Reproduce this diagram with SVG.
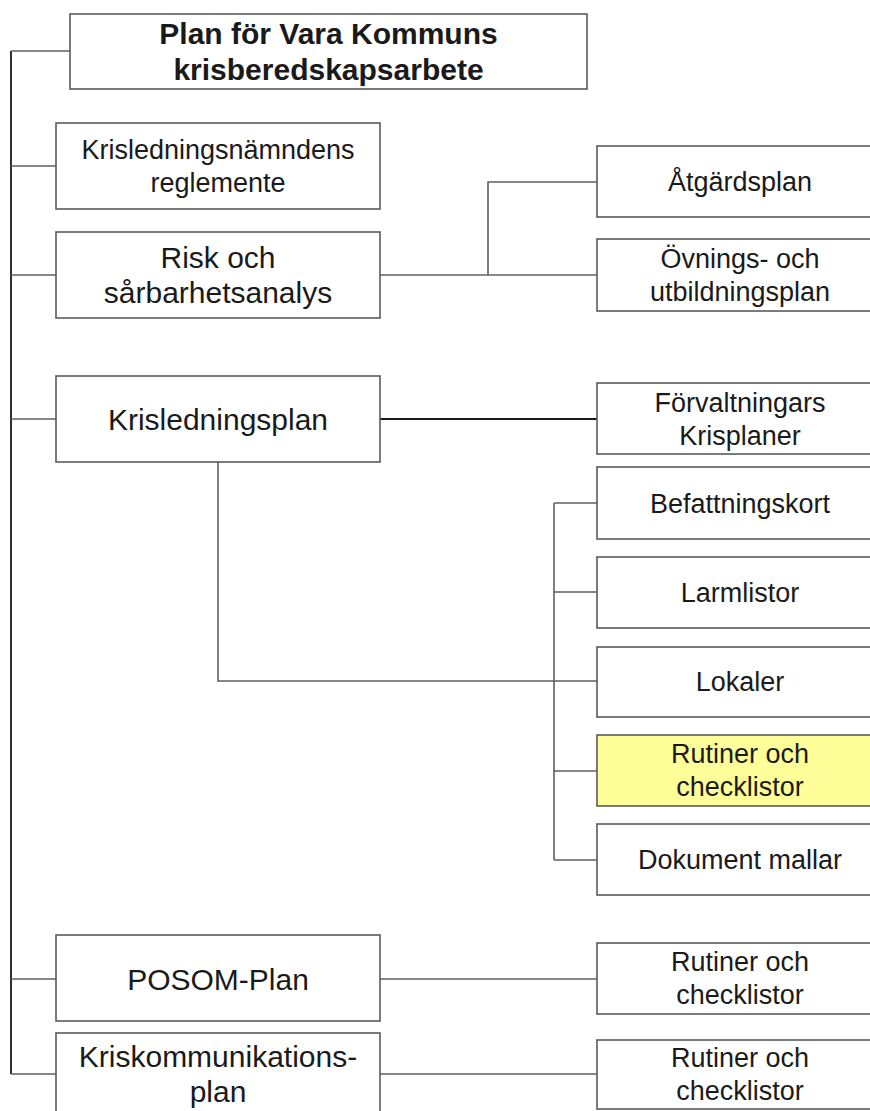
<svg xmlns="http://www.w3.org/2000/svg" width="870" height="1111" viewBox="0 0 870 1111">
<style>
.box{fill:#ffffff;stroke:#5a5a5a;stroke-width:1.6}
.hl{fill:#ffff99}
.t{font-family:"Liberation Sans",Arial,sans-serif;font-size:30px;fill:#1a1a1a;text-anchor:middle}
.s{font-size:27px}
.b{font-weight:bold}
.c{fill:none;stroke:#606060;stroke-width:1.6}
.k{stroke:#1a1a1a;stroke-width:1.8}
</style>
<rect width="870" height="1111" fill="#ffffff"/>
<g id="connectors">
<path class="c k" d="M11 51V1074"/>
<path class="c" d="M11 51H70M11 166H56M11 275H56M11 419H56M11 979H56M11 1074H56"/>
<path class="c" d="M380 275H597M488 275V182H597"/>
<path class="c k" d="M380 419H597"/>
<path class="c" d="M218 462V681H597"/>
<path class="c" d="M554 503V860M554 503H597M554 592H597M554 771H597M554 860H597"/>
<path class="c" d="M380 979H597M380 1074H597"/>
</g>
<g id="title">
<rect class="box" x="70" y="14" width="517" height="75"/>
<text class="t b" x="328.5" y="44">Plan för Vara Kommuns</text>
<text class="t b" x="328.5" y="80">krisberedskapsarbete</text>
</g>
<g id="kriskedningsnamnden">
<rect class="box" x="56" y="123" width="324" height="86"/>
<text class="t s" x="218" y="159">Krisledningsnämndens</text>
<text class="t s" x="218" y="192">reglemente</text>
</g>
<g id="risk">
<rect class="box" x="56" y="232" width="324" height="86"/>
<text class="t" x="218" y="268">Risk och</text>
<text class="t" x="218" y="303">sårbarhetsanalys</text>
</g>
<g id="krisledningsplan">
<rect class="box" x="56" y="376" width="324" height="86"/>
<text class="t" x="218" y="430">Krisledningsplan</text>
</g>
<g id="posom">
<rect class="box" x="56" y="935" width="324" height="86"/>
<text class="t" x="218" y="990">POSOM-Plan</text>
</g>
<g id="kriskommunikation">
<rect class="box" x="56" y="1033" width="324" height="90"/>
<text class="t" x="218" y="1067">Kriskommunikations-</text>
<text class="t" x="218" y="1102">plan</text>
</g>
<g id="atgardsplan">
<rect class="box" x="597" y="146" width="300" height="71"/>
<text class="t s" x="740" y="191">Åtgärdsplan</text>
</g>
<g id="ovningsplan">
<rect class="box" x="597" y="239" width="300" height="72"/>
<text class="t s" x="740" y="268">Övnings- och</text>
<text class="t s" x="740" y="301">utbildningsplan</text>
</g>
<g id="forvaltningar">
<rect class="box" x="597" y="383" width="300" height="71"/>
<text class="t s" x="740" y="412">Förvaltningars</text>
<text class="t s" x="740" y="445">Krisplaner</text>
</g>
<g id="befattningskort">
<rect class="box" x="597" y="467" width="300" height="72"/>
<text class="t s" x="740" y="513">Befattningskort</text>
</g>
<g id="larmlistor">
<rect class="box" x="597" y="557" width="300" height="71"/>
<text class="t s" x="740" y="602">Larmlistor</text>
</g>
<g id="lokaler">
<rect class="box" x="597" y="647" width="300" height="70"/>
<text class="t s" x="740" y="691">Lokaler</text>
</g>
<g id="rutiner1">
<rect class="box hl" x="597" y="735" width="300" height="71"/>
<text class="t s" x="740" y="763">Rutiner och</text>
<text class="t s" x="740" y="796">checklistor</text>
</g>
<g id="dokument">
<rect class="box" x="597" y="824" width="300" height="71"/>
<text class="t s" x="740" y="869">Dokument mallar</text>
</g>
<g id="rutiner2">
<rect class="box" x="597" y="943" width="300" height="71"/>
<text class="t s" x="740" y="971">Rutiner och</text>
<text class="t s" x="740" y="1004">checklistor</text>
</g>
<g id="rutiner3">
<rect class="box" x="597" y="1040" width="300" height="69"/>
<text class="t s" x="740" y="1067">Rutiner och</text>
<text class="t s" x="740" y="1100">checklistor</text>
</g>
</svg>
